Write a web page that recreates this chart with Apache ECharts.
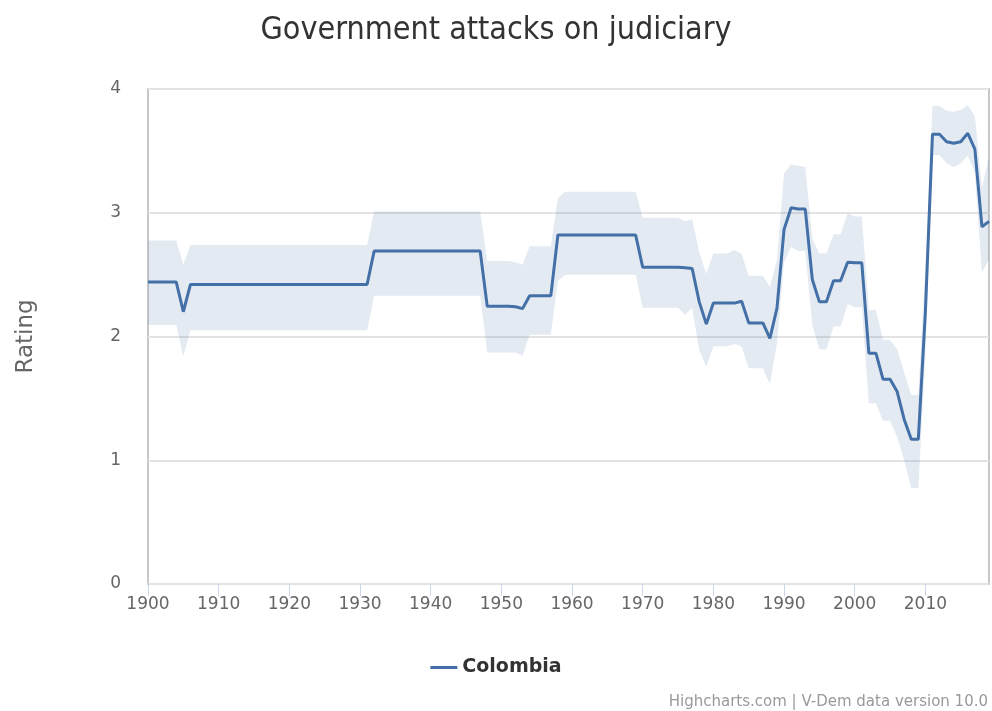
<!DOCTYPE html>
<html>
<head>
<meta charset="utf-8">
<title>Government attacks on judiciary</title>
<script src="https://cdn.jsdelivr.net/npm/echarts@6/dist/echarts.min.js"></script>
<style>
    html, body { margin: 0; padding: 0; background: #fff; }
    #chart { width: 992px; height: 711px; }
</style>
</head>
<body>
<div id="chart"></div>
<script>
// years shown on the x axis
var years = [
    1900, 1901, 1902, 1903, 1904, 1905, 1906, 1907, 1908, 1909,
    1910, 1911, 1912, 1913, 1914, 1915, 1916, 1917, 1918, 1919,
    1920, 1921, 1922, 1923, 1924, 1925, 1926, 1927, 1928, 1929,
    1930, 1931, 1932, 1933, 1934, 1935, 1936, 1937, 1938, 1939,
    1940, 1941, 1942, 1943, 1944, 1945, 1946, 1947, 1948, 1949,
    1950, 1951, 1952, 1953, 1954, 1955, 1956, 1957, 1958, 1959,
    1960, 1961, 1962, 1963, 1964, 1965, 1966, 1967, 1968, 1969,
    1970, 1971, 1972, 1973, 1974, 1975, 1976, 1977, 1978, 1979,
    1980, 1981, 1982, 1983, 1984, 1985, 1986, 1987, 1988, 1989,
    1990, 1991, 1992, 1993, 1994, 1995, 1996, 1997, 1998, 1999,
    2000, 2001, 2002, 2003, 2004, 2005, 2006, 2007, 2008, 2009,
    2010, 2011, 2012, 2013, 2014, 2015, 2016, 2017, 2018, 2019
];

// Colombia, point estimate
var colombia = [
    2.44, 2.44, 2.44, 2.44, 2.44, 2.20, 2.42, 2.42, 2.42, 2.42,
    2.42, 2.42, 2.42, 2.42, 2.42, 2.42, 2.42, 2.42, 2.42, 2.42,
    2.42, 2.42, 2.42, 2.42, 2.42, 2.42, 2.42, 2.42, 2.42, 2.42,
    2.42, 2.42, 2.69, 2.69, 2.69, 2.69, 2.69, 2.69, 2.69, 2.69,
    2.69, 2.69, 2.69, 2.69, 2.69, 2.69, 2.69, 2.69, 2.245, 2.245,
    2.245, 2.245, 2.24, 2.225, 2.33, 2.33, 2.33, 2.33, 2.82, 2.82,
    2.82, 2.82, 2.82, 2.82, 2.82, 2.82, 2.82, 2.82, 2.82, 2.82,
    2.56, 2.56, 2.56, 2.56, 2.56, 2.56, 2.555, 2.55, 2.28, 2.10,
    2.27, 2.27, 2.27, 2.27, 2.285, 2.11, 2.11, 2.11, 1.985, 2.23,
    2.865, 3.04, 3.03, 3.03, 2.46, 2.28, 2.28, 2.45, 2.45, 2.60,
    2.595, 2.595, 1.865, 1.865, 1.655, 1.655, 1.555, 1.33, 1.17, 1.17,
    2.2, 3.634, 3.634, 3.574, 3.561, 3.574, 3.642, 3.515, 2.887, 2.93
];

// confidence band, upper edge
var upper = [
    2.775, 2.775, 2.775, 2.775, 2.775, 2.58, 2.74, 2.74, 2.74, 2.74,
    2.74, 2.74, 2.74, 2.74, 2.74, 2.74, 2.74, 2.74, 2.74, 2.74,
    2.74, 2.74, 2.74, 2.74, 2.74, 2.74, 2.74, 2.74, 2.74, 2.74,
    2.74, 2.74, 3.01, 3.01, 3.01, 3.01, 3.01, 3.01, 3.01, 3.01,
    3.01, 3.01, 3.01, 3.01, 3.01, 3.01, 3.01, 3.01, 2.61, 2.61,
    2.61, 2.61, 2.60, 2.58, 2.73, 2.73, 2.73, 2.73, 3.12, 3.17,
    3.17, 3.17, 3.17, 3.17, 3.17, 3.17, 3.17, 3.17, 3.17, 3.17,
    2.96, 2.96, 2.96, 2.96, 2.96, 2.96, 2.93, 2.95, 2.68, 2.505,
    2.67, 2.67, 2.67, 2.70, 2.667, 2.49, 2.49, 2.49, 2.40, 2.62,
    3.32, 3.39, 3.38, 3.37, 2.79, 2.67, 2.67, 2.826, 2.826, 2.995,
    2.97, 2.97, 2.214, 2.214, 1.975, 1.97, 1.90, 1.71, 1.527, 1.527,
    2.55, 3.863, 3.863, 3.825, 3.817, 3.83, 3.87, 3.78, 3.2, 3.45
];

// confidence band, lower edge
var lower = [
    2.093, 2.093, 2.093, 2.093, 2.093, 1.84, 2.05, 2.05, 2.05, 2.05,
    2.05, 2.05, 2.05, 2.05, 2.05, 2.05, 2.05, 2.05, 2.05, 2.05,
    2.05, 2.05, 2.05, 2.05, 2.05, 2.05, 2.05, 2.05, 2.05, 2.05,
    2.05, 2.05, 2.33, 2.33, 2.33, 2.33, 2.33, 2.33, 2.33, 2.33,
    2.33, 2.33, 2.33, 2.33, 2.33, 2.33, 2.33, 2.33, 1.87, 1.87,
    1.87, 1.87, 1.87, 1.845, 2.015, 2.015, 2.015, 2.015, 2.45, 2.50,
    2.50, 2.50, 2.50, 2.50, 2.50, 2.50, 2.50, 2.50, 2.50, 2.50,
    2.233, 2.233, 2.233, 2.233, 2.233, 2.233, 2.175, 2.23, 1.89, 1.756,
    1.922, 1.922, 1.922, 1.94, 1.92, 1.743, 1.743, 1.743, 1.616, 1.945,
    2.60, 2.726, 2.69, 2.69, 2.093, 1.896, 1.896, 2.08, 2.08, 2.263,
    2.236, 2.236, 1.46, 1.46, 1.32, 1.32, 1.19, 1.00, 0.775, 0.775,
    1.85, 3.467, 3.467, 3.40, 3.367, 3.40, 3.46, 3.32, 2.52, 2.62
];

var lineColor = '#4470a8';
var bandColor = 'rgba(69,114,167,0.15)';

// band is stacked: lower edge + (upper - lower)
let bandWidth = [];
for (let i = 0; i < years.length; i++) {
    bandWidth.push(+(upper[i] - lower[i]).toFixed(3));
}

// only label/tick the decades
function everyDecade(idx, val) {
    return Number(val) % 10 === 0;
}

let chart = echarts.init(document.getElementById('chart'));
let option = {
    animation: false,
    textStyle: { fontFamily: 'DejaVu Sans' },
    title: {
        text: 'Government attacks on judiciary',
        left: 'center',
        top: 10,
        textStyle: {
            fontSize: 32,
            fontWeight: 'normal',
            color: '#333',
            fontFamily: 'DejaVu Sans Condensed'
        }
    },
    legend: {
        data: ['Colombia'],
        left: 'center',
        top: 653,
        icon: 'rect',
        itemWidth: 27,
        itemHeight: 3,
        itemGap: 10,
        textStyle: { fontSize: 19, fontWeight: 'bold', color: '#333' }
    },
    grid: {
        left: 148,
        right: 3,
        top: 89,
        bottom: 127,
        show: true,
        borderColor: '#c8c8c8',
        borderWidth: 2,
        containLabel: false
    },
    xAxis: {
        type: 'category',
        data: years,
        boundaryGap: false,
        axisLine: { show: false },
        axisTick: {
            show: true,
            interval: everyDecade,
            length: 12,
            lineStyle: { color: '#ccd6eb', width: 1 }
        },
        axisLabel: {
            interval: everyDecade,
            fontSize: 17,
            color: '#666',
            margin: 12
        },
        splitLine: { show: false }
    },
    yAxis: {
        type: 'value',
        min: 0,
        max: 4,
        interval: 1,
        name: 'Rating',
        nameLocation: 'middle',
        nameGap: 110,
        nameTextStyle: { fontSize: 23, color: '#666' },
        axisLine: { show: false },
        axisTick: { show: false },
        axisLabel: { fontSize: 17, color: '#666', margin: 27 },
        splitLine: { lineStyle: { color: '#e3e3e3', width: 2 } }
    },
    series: [
        {
            name: 'lower',
            type: 'line',
            stack: 'band',
            symbol: 'none',
            silent: true,
            lineStyle: { opacity: 0 },
            data: lower
        },
        {
            name: 'band',
            type: 'line',
            stack: 'band',
            symbol: 'none',
            silent: true,
            lineStyle: { opacity: 0 },
            areaStyle: { color: bandColor, opacity: 1 },
            data: bandWidth
        },
        {
            name: 'Colombia',
            type: 'line',
            symbol: 'none',
            color: lineColor,
            lineStyle: { width: 3, color: lineColor },
            z: 5,
            data: colombia
        }
    ],
    graphic: [
        {
            type: 'text',
            right: 4,
            bottom: 1,
            style: {
                text: 'Highcharts.com | V-Dem data version 10.0',
                fontSize: 15,
                fill: '#999',
                fontFamily: 'DejaVu Sans'
            }
        }
    ]
};
chart.setOption(option);
</script>
</body>
</html>
